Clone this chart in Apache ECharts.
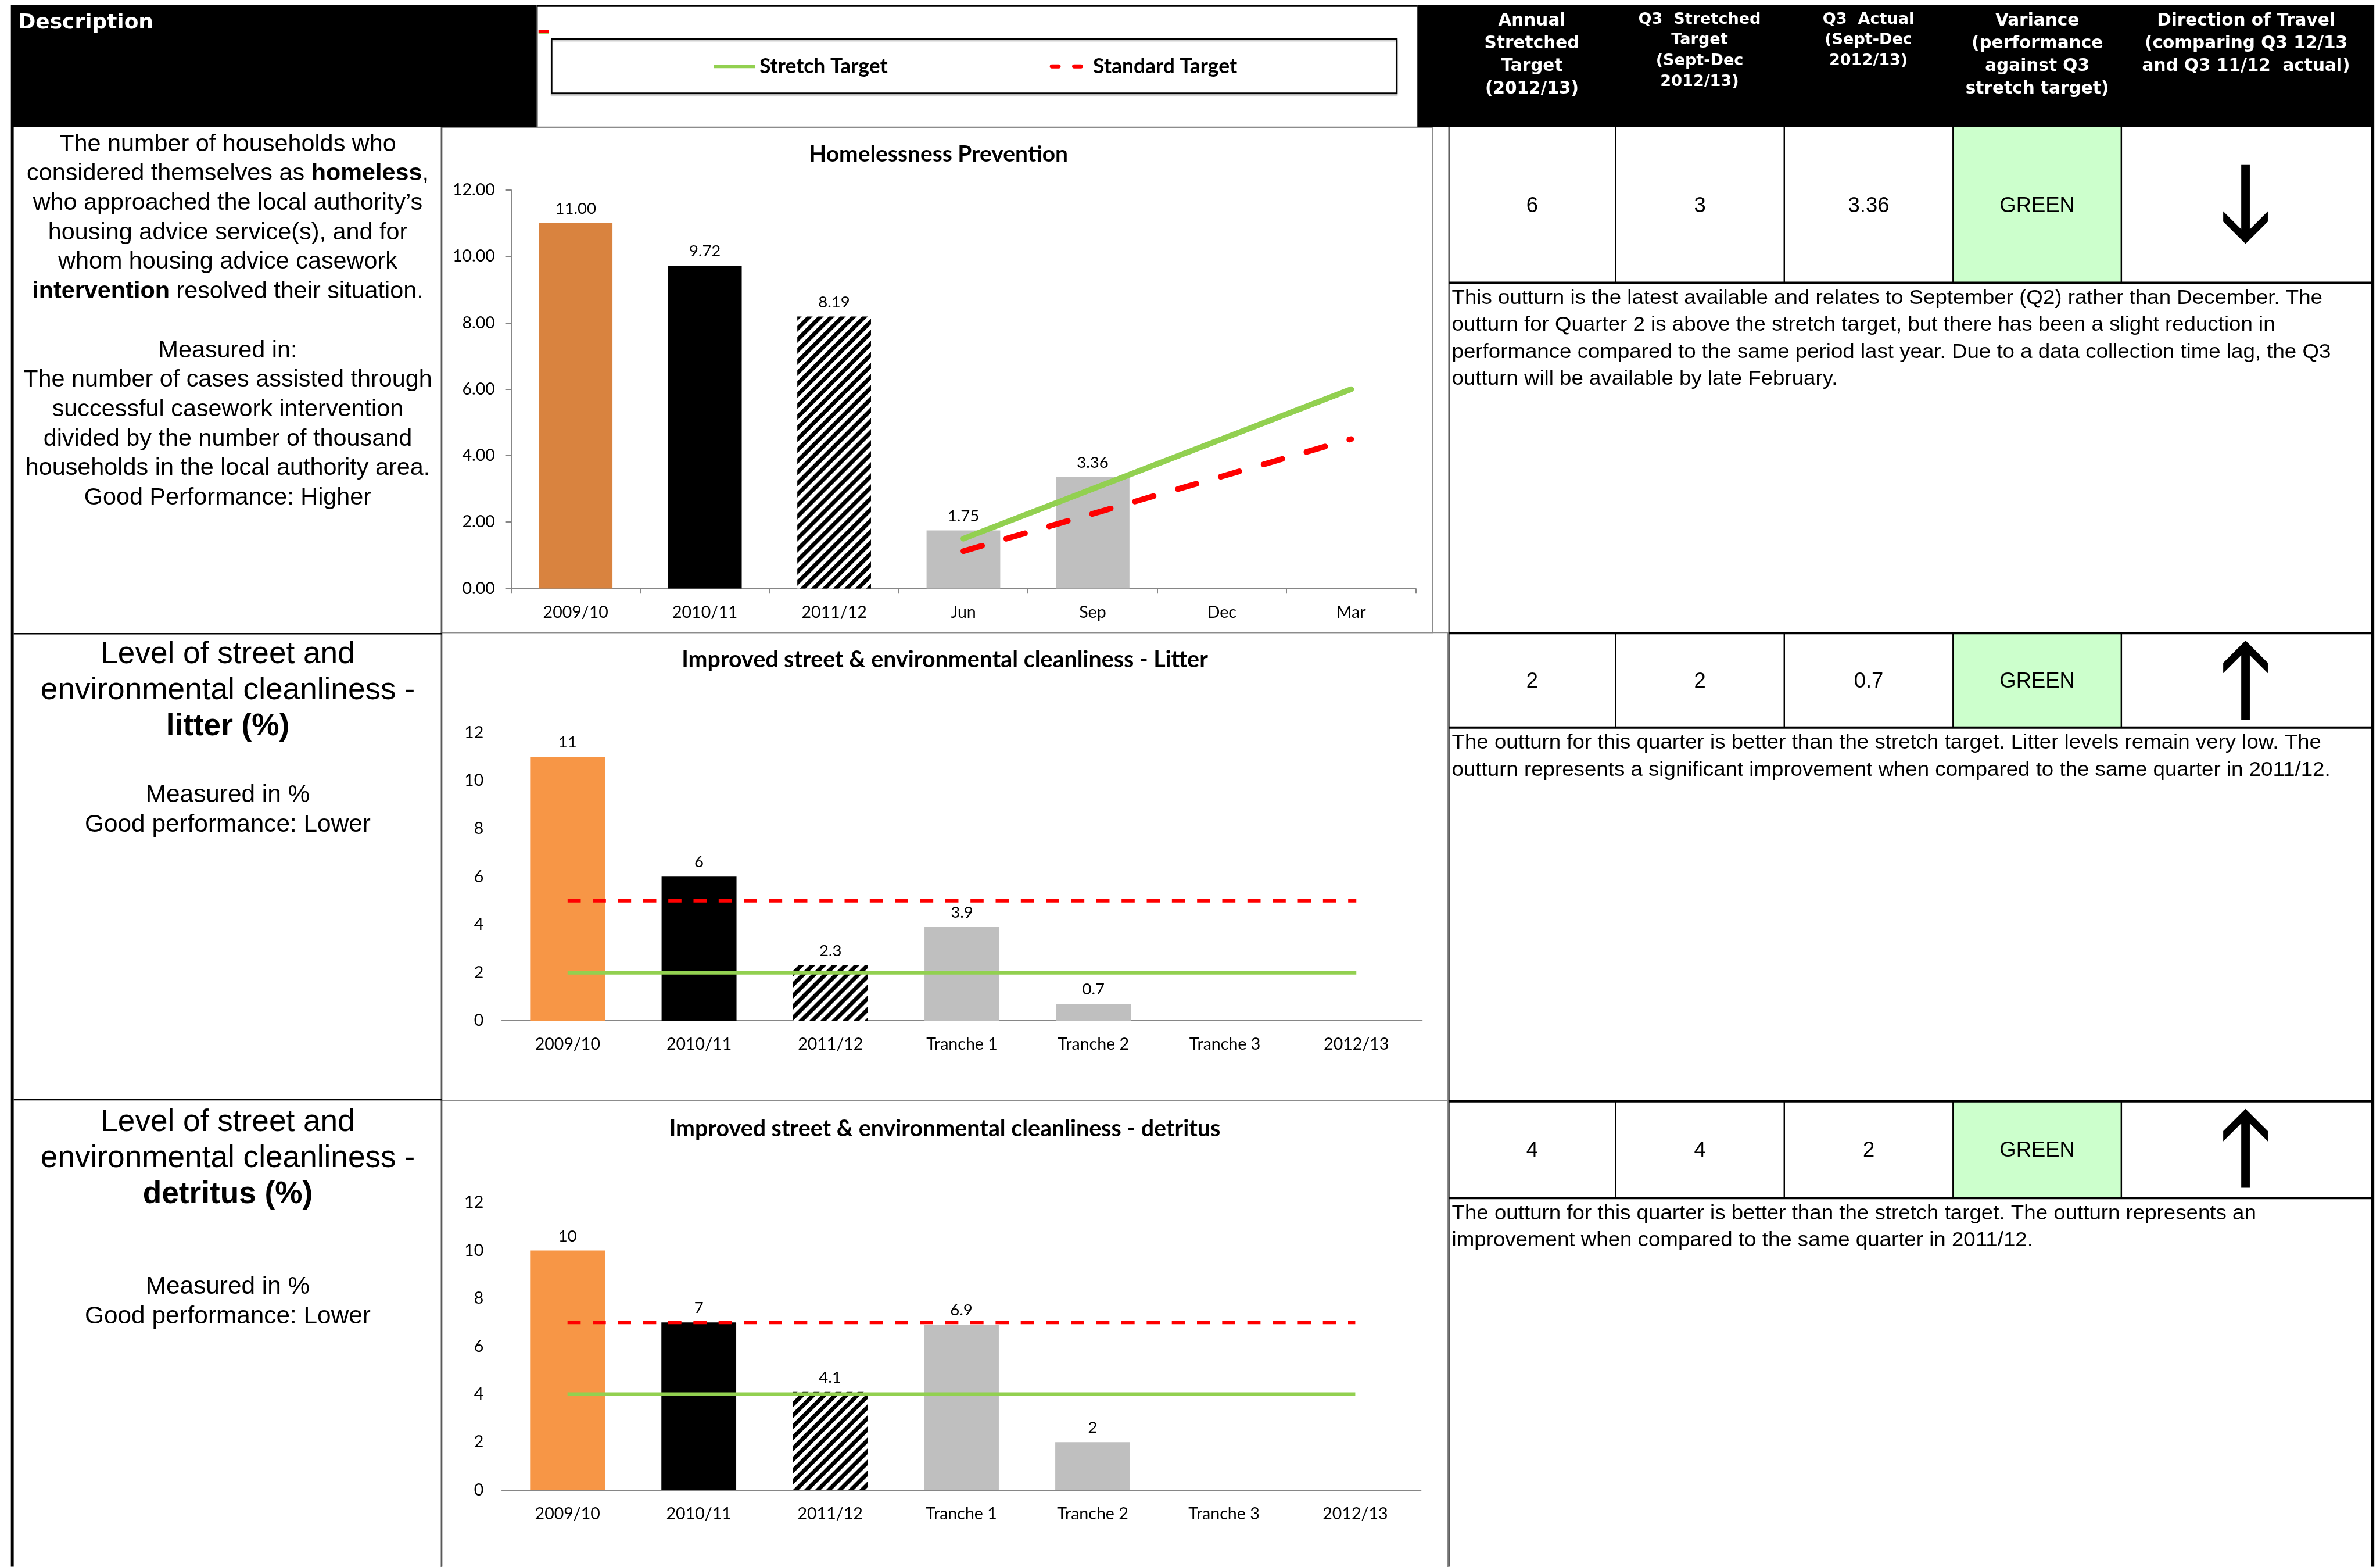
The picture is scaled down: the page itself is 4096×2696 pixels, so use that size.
<!DOCTYPE html>
<html>
<head>
<meta charset="utf-8">
<script src="https://cdn.jsdelivr.net/npm/echarts@6/dist/echarts.min.js"></script>
<style>
  html, body { margin: 0; padding: 0; background: #fff; }
  #main { width: 4096px; height: 2696px; }
</style>
</head>
<body>
<div id="main"></div>
<script>
// Layout is designed on a 4159 x 2737 sheet and scaled to the page.
const S = 4096 / 4159;
const p = v => v * S;

// ---- Homelessness prevention ----
const hpCategories = ['2009/10', '2010/11', '2011/12', 'Jun', 'Sep', 'Dec', 'Mar'];
const hpActual = [11.00, 9.72, 8.19, 1.75, 3.36, null, null];
const hpStretch = [null, null, null, 1.5, 3, 4.5, 6];
const hpStandard = [null, null, null, 1.125, 2.25, 3.375, 4.5];

// ---- Street cleanliness ----
const cleanCategories = ['2009/10', '2010/11', '2011/12', 'Tranche 1', 'Tranche 2', 'Tranche 3', '2012/13'];
const litterActual = [11, 6, 2.3, 3.9, 0.7, null, null];
const litterStretch = [2, 2, 2, 2, 2, 2, 2];
const litterStandard = [5, 5, 5, 5, 5, 5, 5];
const detritusActual = [10, 7, 4.1, 6.9, 2, null, null];
const detritusStretch = [4, 4, 4, 4, 4, 4, 4];
const detritusStandard = [7, 7, 7, 7, 7, 7, 7];

// ---- Scorecard table ----
const headerCols = [
  ['Annual', 'Stretched', 'Target', '(2012/13)'],
  ['Q3  Stretched', 'Target', '(Sept-Dec', '2012/13)'],
  ['Q3  Actual', '(Sept-Dec', '2012/13)'],
  ['Variance', '(performance', 'against Q3', 'stretch target)'],
  ['Direction of Travel', '(comparing Q3 12/13', 'and Q3 11/12  actual)']
];
const annualTarget = ['6', '2', '4'];
const q3Target = ['3', '2', '4'];
const q3Actual = ['3.36', '0.7', '2'];
const variance = ['GREEN', 'GREEN', 'GREEN'];
const direction = ['down', 'up', 'up'];
const commentary = [
  ['This outturn is the latest available and relates to September (Q2) rather than December. The',
   'outturn for Quarter 2 is above the stretch target, but there has been a slight reduction in',
   'performance compared to the same period last year. Due to a data collection time lag, the Q3',
   'outturn will be available by late February.'],
  ['The outturn for this quarter is better than the stretch target. Litter levels remain very low. The',
   'outturn represents a significant improvement when compared to the same quarter in 2011/12.'],
  ['The outturn for this quarter is better than the stretch target. The outturn represents an',
   'improvement when compared to the same quarter in 2011/12.']
];

// ---- colours ----
const ORANGE_HP = '#D9833F';
const ORANGE = '#F79646';
const GREY = '#BFBFBF';
const GREEN_LINE = '#92D050';
const RED = '#FF0000';
const AXIS = '#868686';
const CELL_GREEN = '#CCFFCC';

// diagonal hatch used for the 2011/12 bars
function hatchPattern() {
  const t = Math.round(p(19));
  const c = document.createElement('canvas');
  c.width = t; c.height = t;
  const g = c.getContext('2d');
  g.fillStyle = '#fff';
  g.fillRect(0, 0, t, t);
  g.strokeStyle = '#000';
  g.lineWidth = t * 0.37;
  g.beginPath();
  g.moveTo(0, t); g.lineTo(t, 0);
  g.moveTo(-t / 2, t / 2); g.lineTo(t / 2, -t / 2);
  g.moveTo(t / 2, t * 1.5); g.lineTo(t * 1.5, t / 2);
  g.stroke();
  return { image: c, repeat: 'repeat' };
}
const HATCH = hatchPattern();

const chartFont = 'Lato';
const tickLabel = { fontFamily: chartFont, fontSize: p(29), color: '#000' };

function barSeries(idx, values, fills, fmt) {
  return {
    type: 'bar', xAxisIndex: idx, yAxisIndex: idx, barWidth: '57%',
    data: values.map((v, i) => v == null ? null : { value: v, itemStyle: { color: fills[i] } }),
    label: {
      show: true, position: 'top', distance: p(11),
      formatter: d => fmt(d.value),
      fontFamily: chartFont, fontSize: p(28), color: '#000'
    },
    silent: true, animation: false, z: 2
  };
}
function lineSeries(idx, values, color, width, dash, cap) {
  return {
    type: 'line', xAxisIndex: idx, yAxisIndex: idx, data: values,
    symbol: 'none', showSymbol: false,
    lineStyle: { color: color, width: p(width), type: dash ? dash.map(p) : 'solid', cap: cap || 'butt' },
    silent: true, animation: false, z: 4
  };
}
function xAxisCfg(idx, cats, ticks) {
  return {
    type: 'category', gridIndex: idx, data: cats,
    axisLine: { lineStyle: { color: AXIS, width: p(2) } },
    axisTick: { show: ticks, length: p(9), lineStyle: { color: AXIS, width: p(2) } },
    axisLabel: Object.assign({ margin: p(27), interval: 0 }, tickLabel),
    splitLine: { show: false }
  };
}
function yAxisCfg(idx, showLine, fmt, margin) {
  return {
    type: 'value', gridIndex: idx, min: 0, max: 12, interval: 2,
    axisLine: { show: showLine, lineStyle: { color: AXIS, width: p(2) } },
    axisTick: { show: showLine, length: p(10), lineStyle: { color: AXIS, width: p(2) } },
    axisLabel: Object.assign({ margin: p(margin), formatter: fmt }, tickLabel),
    splitLine: { show: false }
  };
}

const fills = [ORANGE, '#000000', HATCH, GREY, GREY, GREY, GREY];
const fillsHp = [ORANGE_HP, '#000000', HATCH, GREY, GREY, GREY, GREY];

// ---------- graphic helpers ----------
const G = [];
function rect(x1, y1, x2, y2, style, z) {
  G.push({ type: 'rect', silent: true, z: z || 0,
    shape: { x: p(x1), y: p(y1), width: p(x2 - x1), height: p(y2 - y1) }, style: style });
}
function seg(x1, y1, x2, y2, color, w, z, extra) {
  G.push({ type: 'line', silent: true, z: z || 1,
    shape: { x1: p(x1), y1: p(y1), x2: p(x2), y2: p(y2) },
    style: Object.assign({ stroke: color, lineWidth: p(w) }, extra || {}) });
}
function font(size, family, weight) {
  return (weight || 'normal') + ' ' + p(size) + 'px ' + family;
}
function text(x, y, str, size, family, opt) {
  opt = opt || {};
  const align = opt.align || 'center';
  G.push({ type: 'text', silent: true, z: 5, x: p(x), y: p(y), scaleX: opt.scaleX || 1,
    style: {
      text: str, fill: opt.color || '#000', font: font(size, family, opt.weight),
      align: align, textAlign: align, verticalAlign: 'middle', textVerticalAlign: 'middle'
    } });
}
function richText(x, y, parts, size, family) {
  const str = parts.map(pt => '{' + (pt[1] ? 'b' : 'n') + '|' + pt[0] + '}').join('');
  G.push({ type: 'text', silent: true, z: 5, x: p(x), y: p(y),
    style: {
      text: str, align: 'center', textAlign: 'center', verticalAlign: 'middle', textVerticalAlign: 'middle',
      rich: {
        n: { fontFamily: family, fontSize: p(size), fontWeight: 'normal', fill: '#000', color: '#000' },
        b: { fontFamily: family, fontSize: p(size), fontWeight: 'bold', fill: '#000', color: '#000' }
      }
    } });
}
function arrow(cx, tipY, len, up) {
  const d = up ? 1 : -1;
  const pts = [[0, 0], [39, 39], [39, 57], [7.5, 25.5], [7.5, len], [-7.5, len], [-7.5, 25.5], [-39, 57], [-39, 39]];
  G.push({ type: 'polygon', silent: true, z: 5,
    shape: { points: pts.map(q => [p(cx + q[0]), p(tipY + d * q[1])]) },
    style: { fill: '#000' } });
}

// ---------- header band ----------
const SANS = '"Liberation Sans", Arial, sans-serif';
const HEAD = '"DejaVu Sans", Verdana, sans-serif';
rect(19, 9, 938, 222, { fill: '#000' });
rect(939, 9, 2477, 222, { fill: '#fff', stroke: '#7F7F7F', lineWidth: p(2) });
seg(939, 10, 2477, 10, '#000', 4);
rect(2477, 9, 4148, 222, { fill: '#000' });
text(32, 40, 'Description', 36.5, HEAD, { weight: 'bold', color: '#fff', align: 'left' });

// key for the target lines
rect(941, 52, 959, 57, { fill: RED });
seg(941, 58, 959, 58, GREEN_LINE, 1.5);
rect(964, 68, 2441, 163, { fill: '#fff', stroke: '#000', lineWidth: p(2.5), shadowColor: 'rgba(0,0,0,0.25)', shadowOffsetY: p(3), shadowBlur: p(2) }, 1);
seg(1247, 116, 1320, 116, GREEN_LINE, 6, 3);
text(1327, 116, 'Stretch Target', 36, chartFont, { weight: 'bold', align: 'left' });
seg(1838, 116, 1850, 116, RED, 7, 3, { lineCap: 'round' });
seg(1877, 116, 1889, 116, RED, 7, 3, { lineCap: 'round' });
text(1910, 116, 'Standard Target', 36, chartFont, { weight: 'bold', align: 'left' });

// scorecard column headings
const colCentres = [2677, 2970, 3265, 3560, 3925];
headerCols.forEach((lines, c) => {
  const small = (c === 1 || c === 2);
  const y0 = small ? 34 : 36.5;
  const step = small ? 36.5 : 39.8;
  lines.forEach((ln, i) => text(colCentres[c], y0 + i * step, ln, small ? 27.5 : 30, HEAD, { weight: 'bold', color: '#fff' }));
});

// ---------- description column ----------
seg(21.5, 222, 21.5, 2737, '#000', 5, 2);
seg(772, 222, 772, 2737, '#404040', 2, 2);
seg(24, 1107, 772, 1107, '#000', 2.5, 2);
seg(24, 1921, 772, 1921, '#000', 2.5, 2);

const d1 = [
  [['The number of households who', 0]],
  [['considered themselves as ', 0], ['homeless', 1], [',', 0]],
  [['who approached the local authority\u2019s', 0]],
  [['housing advice service(s), and for', 0]],
  [['whom housing advice casework', 0]],
  [['intervention', 1], [' resolved their situation.', 0]],
  null,
  [['Measured in:', 0]],
  [['The number of cases assisted through', 0]],
  [['successful casework intervention', 0]],
  [['divided by the number of thousand', 0]],
  [['households in the local authority area.', 0]],
  [['Good Performance: Higher', 0]]
];
d1.forEach((ln, i) => { if (ln) richText(398, 252 + i * 51.5, ln, 42, SANS); });

[[1144, 'litter (%)', 1389], [1961, 'detritus (%)', 2248]].forEach(r => {
  richText(398, r[0], [['Level of street and', 0]], 54, SANS);
  richText(398, r[0] + 63, [['environmental cleanliness -', 0]], 54, SANS);
  richText(398, r[0] + 126, [[r[1], 1]], 54, SANS);
  richText(398, r[2], [['Measured in %', 0]], 43, SANS);
  richText(398, r[2] + 52, [['Good performance: Lower', 0]], 43, SANS);
});

// ---------- chart panels ----------
rect(771, 223, 2503, 1105, { fill: 'none', stroke: '#8C8C8C', lineWidth: p(2) });
rect(771, 1105, 2530, 1923, { fill: 'none', stroke: '#8C8C8C', lineWidth: p(2) });
rect(771, 1923, 2530, 2760, { fill: 'none', stroke: '#8C8C8C', lineWidth: p(2) });
text(1640, 270, 'Homelessness Prevention', 39.5, chartFont, { weight: 'bold' });
text(1651, 1153, 'Improved street & environmental cleanliness - Litter', 40, chartFont, { weight: 'bold' });
text(1651, 1972, 'Improved street & environmental cleanliness - detritus', 40, chartFont, { weight: 'bold' });

// ---------- scorecard body ----------
const rowTops = [222, 1106, 1924];
const cellBottoms = [494, 1271, 2093];
const colEdges = [2532, 2823, 3118, 3413, 3707, 4144];
seg(2532, 222, 2532, 2737, '#000', 2, 2);
seg(4146, 9, 4146, 2737, '#000', 6, 2);
rowTops.forEach((top, r) => {
  const bot = cellBottoms[r];
  rect(3413, top, 3707, bot, { fill: CELL_GREEN });
  if (r > 0) seg(2532, top, 4144, top, '#000', 4, 3);
  seg(2532, bot, 4144, bot, '#000', 4, 3);
  [2823, 3118, 3413, 3707].forEach(x => seg(x, top, x, bot, '#000', 2.5, 3));
  const cy = (top + bot) / 2 + 2;
  [annualTarget[r], q3Target[r], q3Actual[r], variance[r]].forEach((v, c) => {
    text((colEdges[c] + colEdges[c + 1]) / 2, cy, v, 37, SANS);
  });
  if (direction[r] === 'up') arrow(3924, top + 13, 138, true);
  else arrow(3924, 426, 138, false);
  commentary[r].forEach((ln, i) => {
    text(2537, bot + 27 + i * 47.2, ln, 36, SANS, { align: 'left', scaleX: 1.035 });
  });
});

// ---------- charts ----------
const option = {
  backgroundColor: '#fff',
  animation: false,
  textStyle: { fontFamily: chartFont },
  grid: [
    { left: p(893), top: p(332), width: p(2474 - 893), height: p(1028 - 332) },
    { left: p(877), top: p(1280), width: p(2485 - 877), height: p(1783 - 1280) },
    { left: p(877), top: p(2101), width: p(2483 - 877), height: p(2603 - 2101) }
  ],
  xAxis: [
    xAxisCfg(0, hpCategories, true),
    xAxisCfg(1, cleanCategories, false),
    xAxisCfg(2, cleanCategories, false)
  ],
  yAxis: [
    yAxisCfg(0, true, v => v.toFixed(2), 28),
    yAxisCfg(1, false, v => String(v), 32),
    yAxisCfg(2, false, v => String(v), 32)
  ],
  series: [
    barSeries(0, hpActual, fillsHp, v => v.toFixed(2)),
    lineSeries(0, hpStretch, GREEN_LINE, 10, null, 'round'),
    lineSeries(0, hpStandard, RED, 10, [34, 44], 'round'),
    barSeries(1, litterActual, fills, v => String(v)),
    lineSeries(1, litterStandard, RED, 6.5, [23, 21]),
    lineSeries(1, litterStretch, GREEN_LINE, 6.5),
    barSeries(2, detritusActual, fills, v => String(v)),
    lineSeries(2, detritusStandard, RED, 6.5, [23, 21]),
    lineSeries(2, detritusStretch, GREEN_LINE, 6.5)
  ],
  graphic: { elements: G }
};

const chart = echarts.init(document.getElementById('main'), null, { renderer: 'canvas', width: 4096, height: 2696 });
chart.setOption(option);
</script>
</body>
</html>
